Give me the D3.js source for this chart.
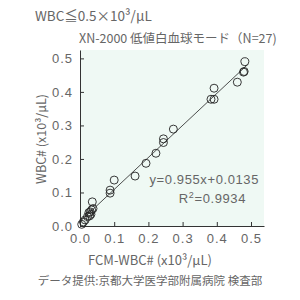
<!DOCTYPE html>
<html>
<head>
<meta charset="utf-8">
<script src="https://cdn.jsdelivr.net/npm/d3@7"></script>
<style>
  body { margin: 0; background: #fff; }
  text { font-family: "Noto Sans CJK JP", "Noto Sans", sans-serif; fill: #666; }
  .num { font-family: "Liberation Sans Narrow", "Liberation Sans", sans-serif; letter-spacing: 1px; }
</style>
</head>
<body>
<script>
// FCM-WBC# (x) vs XN-2000 WBC# (y), x10^3/uL
var xVals = [0.482, 0.478, 0.480, 0.460, 0.392, 0.383, 0.392, 0.273, 0.244, 0.244, 0.222,
  0.193, 0.161, 0.100, 0.088, 0.088,
  0.036, 0.038, 0.034, 0.030, 0.026, 0.032, 0.028, 0.022, 0.015, 0.010, 0.005];
var yVals = [0.490, 0.459, 0.461, 0.429, 0.411, 0.378, 0.378, 0.289, 0.260, 0.249, 0.217,
  0.187, 0.149, 0.137, 0.107, 0.098,
  0.072, 0.052, 0.048, 0.042, 0.040, 0.035, 0.030, 0.028, 0.018, 0.012, 0.005];
var ticks = [0, 0.1, 0.2, 0.3, 0.4, 0.5];
var slope = 0.955, intercept = 0.0135, r2 = "0.9934";

var width = 300, height = 300;
const svg = d3.select("body").append("svg").attr("width", width).attr("height", height);

const x = d3.scaleLinear().domain([0, 0.538]).range([80, 264]);
const y = d3.scaleLinear().domain([0, 0.525]).range([226, 50]);

svg.append("rect").attr("x", 80).attr("y", 50).attr("width", 184).attr("height", 176)
  .attr("fill", "#eff9f4");

// axes (ticks drawn inward)
const xAxis = svg.append("g").attr("transform", "translate(0,226)")
  .call(d3.axisBottom(x).tickValues(ticks).tickFormat(d3.format(".1f")).tickSizeInner(-4).tickSizeOuter(0).tickPadding(8));
const yAxis = svg.append("g").attr("transform", "translate(80,0)")
  .call(d3.axisLeft(y).tickValues(ticks).tickFormat(d3.format(".1f")).tickSizeInner(-4).tickSizeOuter(0).tickPadding(7));
[xAxis, yAxis].forEach(function (g) {
  g.select(".domain").attr("stroke", "#333");
  g.selectAll(".tick line").attr("stroke", "#333");
  g.selectAll(".tick text").attr("class", "num").style("font-size", "13px").attr("fill", "#777");
});

// regression line
svg.append("line")
  .attr("x1", x(0)).attr("y1", y(intercept))
  .attr("x2", x(0.49)).attr("y2", y(slope * 0.49 + intercept))
  .attr("stroke", "#222").attr("stroke-width", 0.8);

svg.append("g").selectAll("circle").data(xVals).enter().append("circle")
  .attr("cx", function (d) { return x(d); })
  .attr("cy", function (d, i) { return y(yVals[i]); })
  .attr("r", 4)
  .attr("fill", "none").attr("stroke", "#222").attr("stroke-width", 0.9);

svg.append("text").attr("class", "num").attr("x", 259).attr("y", 184).attr("text-anchor", "end")
  .style("font-size", "13px").style("letter-spacing", "0.6px").text("y=0.955x+0.0135");
const r = svg.append("text").attr("class", "num").attr("x", 246).attr("y", 203).attr("text-anchor", "end")
  .style("font-size", "13px").style("letter-spacing", "0.6px");
r.append("tspan").text("R");
r.append("tspan").attr("dy", -5).style("font-size", "9px").text("2");
r.append("tspan").attr("dy", 5).text("=" + r2);

// titles
svg.append("text").attr("x", 35).attr("y", 21).style("font-size", "13.5px").attr("fill", "#555")
  .text("WBC≦0.5×10³/μL");
svg.append("text").attr("x", 79).attr("y", 43).style("font-size", "12.5px").attr("fill", "#555")
  .text("XN-2000 低値白血球モード（N=27)");
svg.append("text").attr("transform", "translate(46,139) rotate(-90)").attr("text-anchor", "middle")
  .style("font-size", "12.5px").text("WBC# (x10³/μL)");
svg.append("text").attr("x", 150).attr("y", 265).attr("text-anchor", "middle")
  .style("font-size", "13px").text("FCM-WBC# (x10³/μL)");
svg.append("text").attr("x", 150).attr("y", 285).attr("text-anchor", "middle")
  .style("font-size", "11.5px").text("データ提供:京都大学医学部附属病院 検査部");
</script>
</body>
</html>
